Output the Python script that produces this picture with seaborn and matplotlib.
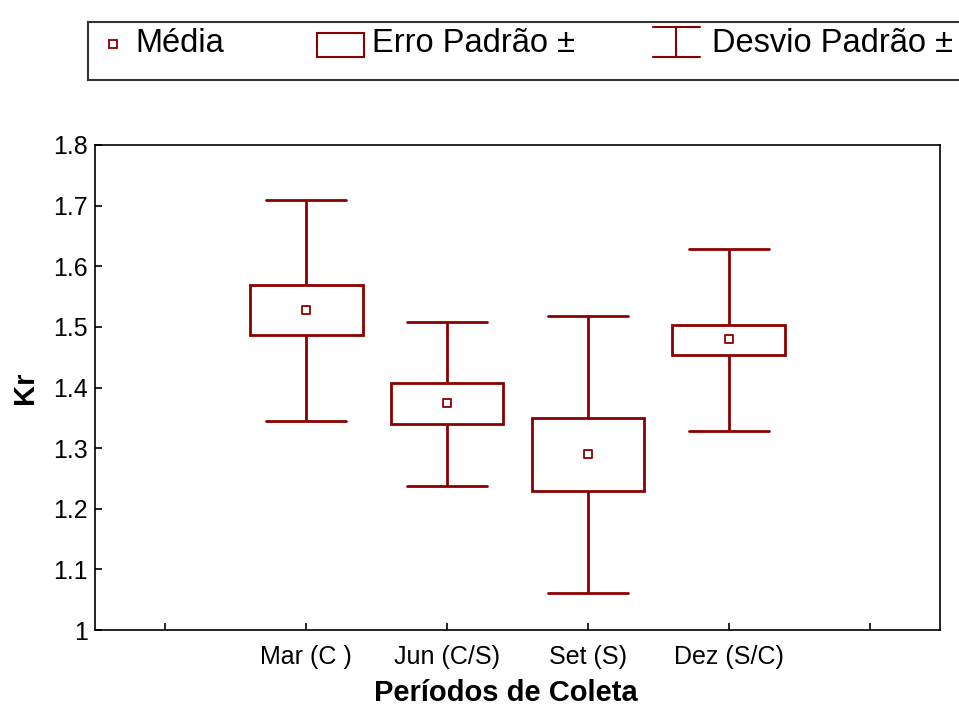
import numpy as np
import pandas as pd
import matplotlib
matplotlib.use("Agg")
import matplotlib.pyplot as plt
import matplotlib.patches as mpatches
import seaborn as sns

# ---- data ----
categories = ["Mar (C )", "Jun (C/S)", "Set (S)", "Dez (S/C)"]
means   = [1.528, 1.375, 1.291, 1.480]
se_low  = [1.486, 1.339, 1.229, 1.454]
se_high = [1.569, 1.408, 1.350, 1.503]
sd_low  = [1.345, 1.238, 1.061, 1.328]
sd_high = [1.710, 1.508, 1.518, 1.629]
y_ticks = [1, 1.1, 1.2, 1.3, 1.4, 1.5, 1.6, 1.7, 1.8]
y_tick_labels = ["1", "1.1", "1.2", "1.3", "1.4", "1.5", "1.6", "1.7", "1.8"]

RED = "#8B0000"

# long table whose quartiles = mean ± SE and extremes = mean ± SD
rows = []
for c, lo, slo, m, shi, hi in zip(categories, sd_low, se_low, means, se_high, sd_high):
    for v in (lo, slo, m, shi, hi):
        rows.append({"cat": c, "Kr": v})
df = pd.DataFrame(rows)
df_mean = pd.DataFrame({"cat": categories, "Kr": means})

order = [""] + categories + [" "]

sns.set_style("ticks")
plt.rcParams["font.family"] = ["Liberation Sans", "DejaVu Sans"]
plt.rcParams["text.color"] = "black"
plt.rcParams["axes.labelcolor"] = "black"
plt.rcParams["xtick.color"] = "black"
plt.rcParams["ytick.color"] = "black"

fig = plt.figure(figsize=(9.59, 7.13), dpi=100)
ax = fig.add_axes([95 / 959, 1 - 630 / 713, 845 / 959, 485 / 713])

sns.boxplot(data=df, x="cat", y="Kr", order=order, ax=ax, whis=(0, 100),
            width=0.8, color="white", linecolor=RED, linewidth=2,
            showfliers=False, medianprops={"visible": False},
            capwidths=0.57)
sns.stripplot(data=df_mean, x="cat", y="Kr", order=order, ax=ax, jitter=False,
              marker="s", size=6, color="white", edgecolor=RED, linewidth=1.3,
              zorder=5)

ax.set_ylim(1.0, 1.8)
ax.set_xlim(-0.5, len(order) - 0.5)
ax.set_yticks(y_ticks)
ax.set_yticklabels(y_tick_labels)
ax.set_xticks(range(len(order)))
ax.set_xticklabels(order)
for s in ax.spines.values():
    s.set_visible(True)
    s.set_linewidth(1.2)
    s.set_color("black")
ax.tick_params(axis="both", direction="in", length=5, width=1.2, labelsize=18,
               colors="black")
ax.tick_params(axis="x", pad=11)
ax.tick_params(axis="y", pad=5)
ax.set_xlabel("Períodos de Coleta", fontsize=21, fontweight="bold")
ax.xaxis.set_label_coords(0.486, -0.101)
ax.set_ylabel("Kr", fontsize=21, fontweight="bold", labelpad=10)

# ---- legend box at the top ----
lg = fig.add_axes([88 / 959, 1 - 80 / 713, 880 / 959, 58 / 713])
lg.set_xlim(88, 968)
lg.set_ylim(80, 22)
lg.set_xticks([])
lg.set_yticks([])
for s in lg.spines.values():
    s.set_linewidth(1.5)
    s.set_color("#333333")
legfont = dict(fontsize=23.5, va="center", ha="left", color="black",
               family=["Liberation Sans", "DejaVu Sans"])
lg.plot([113], [44], marker="s", ms=6, mfc="white", mec=RED, mew=1.3)
lg.text(135, 43, "Média", **legfont)
lg.add_patch(mpatches.Rectangle((317, 33), 47, 24, fill=False, edgecolor=RED, lw=1.5))
lg.text(372, 43, "Erro Padrão ±", **legfont)
lg.plot([653, 700], [27, 27], color=RED, lw=1.5)
lg.plot([676, 676], [27, 57], color=RED, lw=1.5)
lg.plot([653, 700], [57, 57], color=RED, lw=1.5)
lg.text(712, 43, "Desvio Padrão ±", **legfont)

fig.savefig("out.png", dpi=100)
